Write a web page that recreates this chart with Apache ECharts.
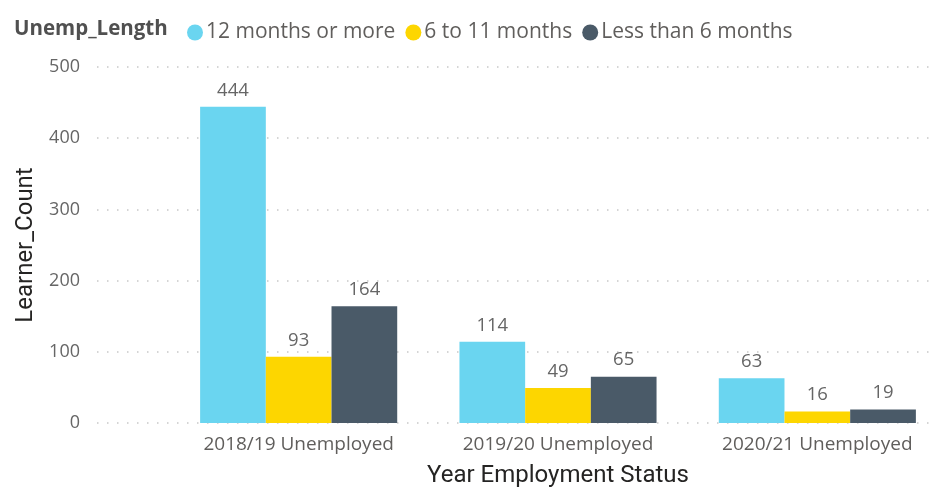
<!DOCTYPE html>
<html>
<head>
<meta charset="utf-8">
<script src="https://cdn.jsdelivr.net/npm/echarts@6/dist/echarts.min.js"></script>
<style>
  html, body { margin: 0; padding: 0; background: #ffffff; }
  #chart { width: 932px; height: 487px; }
</style>
</head>
<body>
<div id="chart"></div>
<script>
// Learner counts by year and length of unemployment
const categories = ['2018/19 Unemployed', '2019/20 Unemployed', '2020/21 Unemployed'];
const seriesNames = ['12 months or more', '6 to 11 months', 'Less than 6 months'];
const months12Plus = [444, 114, 63];
const months6to11 = [93, 49, 16];
const monthsUnder6 = [164, 65, 19];
const yTicks = [0, 100, 200, 300, 400, 500];

const colors = ['#6AD5F0', '#FDD600', '#4A5A68'];
const font = '"Open Sans", "Noto Sans", sans-serif';
const titleFont = 'Roboto, "Noto Sans", sans-serif';
const yMin = yTicks[0];
const yMax = yTicks[yTicks.length - 1];
const yStep = yTicks[1] - yTicks[0];

const plotTop = 67;
const plotHeight = 356;

function barSeries(name, data, color) {
  return {
    name: name,
    type: 'bar',
    xAxisIndex: 0,
    yAxisIndex: 0,
    data: data,
    barGap: '0%',
    barCategoryGap: '24%',
    itemStyle: { color: color },
    label: {
      show: true,
      position: 'top',
      distance: 7,
      color: '#666666',
      fontFamily: font,
      fontSize: 18.5
    }
  };
}

const chart = echarts.init(document.getElementById('chart'), null, { renderer: 'canvas' });
chart.setOption({
  animation: false,
  color: colors,
  title: {
    text: 'Unemp_Length',
    left: 9,
    top: 14,
    textStyle: { fontFamily: font, fontSize: 20.5, fontWeight: 'bold', color: '#505050' }
  },
  legend: {
    left: 182,
    top: 17,
    icon: 'circle',
    itemWidth: 16,
    itemHeight: 16,
    itemGap: 10,
    data: seriesNames,
    textStyle: { fontFamily: font, fontSize: 21, color: '#605E5C', padding: [0, 0, 0, -2] }
  },
  grid: [
    // bar plot area; category bands run past the right edge
    { left: 169, top: plotTop, width: 778, height: plotHeight, outerBoundsMode: 'none', containLabel: false },
    // value scale and gridlines spanning the full width
    { left: 97, top: plotTop, right: 0, height: plotHeight, outerBoundsMode: 'none', containLabel: false }
  ],
  xAxis: [
    {
      type: 'category',
      gridIndex: 0,
      data: categories,
      axisLine: { show: false },
      axisTick: { show: false },
      axisLabel: { margin: 12, color: '#605E5C', fontFamily: font, fontSize: 19 },
      name: 'Year Employment Status',
      nameLocation: 'middle',
      nameGap: 41,
      nameTextStyle: { fontFamily: titleFont, fontSize: 24, color: '#252423' }
    },
    {
      type: 'value',
      gridIndex: 1,
      show: false
    }
  ],
  yAxis: [
    {
      type: 'value',
      gridIndex: 0,
      min: yMin,
      max: yMax,
      interval: yStep,
      show: false,
      splitLine: { show: false }
    },
    {
      type: 'value',
      gridIndex: 1,
      min: yMin,
      max: yMax,
      interval: yStep,
      axisLine: { show: false },
      axisTick: { show: false },
      axisLabel: { margin: 17, color: '#666666', fontFamily: font, fontSize: 18 },
      splitLine: { show: true, lineStyle: { color: '#C8C8C8', width: 1.5, type: [1.5, 8.5] } },
      name: 'Learner_Count',
      nameLocation: 'middle',
      nameGap: 58,
      nameTextStyle: { fontFamily: titleFont, fontSize: 24, color: '#252423' }
    }
  ],
  series: [
    barSeries(seriesNames[0], months12Plus, colors[0]),
    barSeries(seriesNames[1], months6to11, colors[1]),
    barSeries(seriesNames[2], monthsUnder6, colors[2])
  ]
});
</script>
</body>
</html>
